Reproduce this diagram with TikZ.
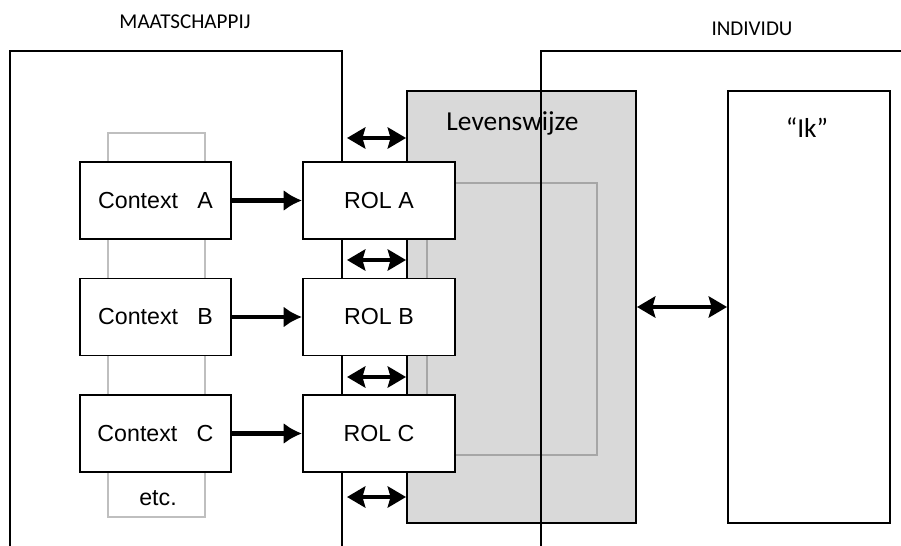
\documentclass[tikz,border=0pt]{standalone}
\usepackage{fontspec}
\setmainfont{Liberation Sans}
\newfontfamily\calib{Carlito}
\usetikzlibrary{arrows.meta}
\definecolor{levensgrey}{HTML}{D9D9D9}
\definecolor{innergrey}{HTML}{A6A6A6}
\definecolor{columngrey}{HTML}{BFBFBF}

\begin{document}
\begin{tikzpicture}[
        frame/.style={draw, line width=1.4pt, inner sep=0pt},
        box/.style={frame, fill=white, minimum height=1.925cm, font=\fontsize{16.5}{18}\selectfont},
        caption/.style={font=\calib\fontsize{15}{17}\selectfont},
        title/.style={font=\calib\fontsize{19.5}{22}\selectfont},
        flow/.style={line width=3.2pt, -{Latex[length=13pt, width=15pt]}},
        link/.style={line width=3pt, {Stealth[length=13pt, width=15pt, inset=2pt]}-{Stealth[length=13pt, width=15pt, inset=2pt]}}
    ]
        \clip (0, 0) rectangle (22.525, 13.625);

        \node[caption] (maatlabel) at (4.625, 13.075) {MAATSCHAPPIJ};
        \node[caption] (indivlabel) at (18.8, 12.9) {INDIVIDU};

        \node[draw=columngrey, line width=1pt, minimum width=2.425cm, minimum height=9.6cm] (column) at (3.9125, 5.5) {};
        \node[frame, fill=levensgrey, minimum width=5.725cm, minimum height=10.8cm] (levens) at (13.0375, 5.95) {};
        \node[draw=innergrey, line width=1pt, minimum width=4.25cm, minimum height=6.8cm] (inner) at (12.8, 5.65) {};
        \node[title] (levenslabel) at (12.8125, 10.55) {Levenswijze};

        \node[frame, minimum width=8.3cm, minimum height=12.85cm] (maat) at (4.4, 5.925) {};
        \node[frame, minimum width=9.975cm, minimum height=12.85cm] (indiv) at (18.5125, 5.925) {};

        \node[frame, minimum width=4.05cm, minimum height=10.8cm] (ik) at (20.225, 5.95) {};
        \node[title] (iklabel) at (20.175, 10.425) {“Ik”};

        \node[box, minimum width=3.775cm] (ctxA) at (3.8875, 8.6125) {Context~~~A};
        \node[box, minimum width=3.775cm] (ctxB) at (3.8875, 5.7) {Context~~~B};
        \node[box, minimum width=3.775cm] (ctxC) at (3.8875, 2.7875) {Context~~~C};
        \node[font=\fontsize{16.5}{18}\selectfont] (etc) at (3.95, 1.175) {etc.};

        \node[box, minimum width=3.8cm] (rolA) at (9.475, 8.6125) {ROL A};
        \node[box, minimum width=3.8cm] (rolB) at (9.475, 5.7) {ROL B};
        \node[box, minimum width=3.8cm] (rolC) at (9.475, 2.7875) {ROL C};

        \draw[flow] (ctxA) -- (rolA);
        \draw[flow] (ctxB) -- (rolB);
        \draw[flow] (ctxC) -- (rolC);

        \coordinate (gap1) at (8.675, 10.175);
        \coordinate (gap2) at (8.675, 7.125);
        \coordinate (gap3) at (8.675, 4.2);
        \coordinate (gap4) at (8.675, 1.2);
        \draw[link] (gap1) -- (gap1 -| levens.west);
        \draw[link] (gap2) -- (gap2 -| levens.west);
        \draw[link] (gap3) -- (gap3 -| levens.west);
        \draw[link] (gap4) -- (gap4 -| levens.west);

        \draw[link] (levens) -- (ik);
\end{tikzpicture}
\end{document}
